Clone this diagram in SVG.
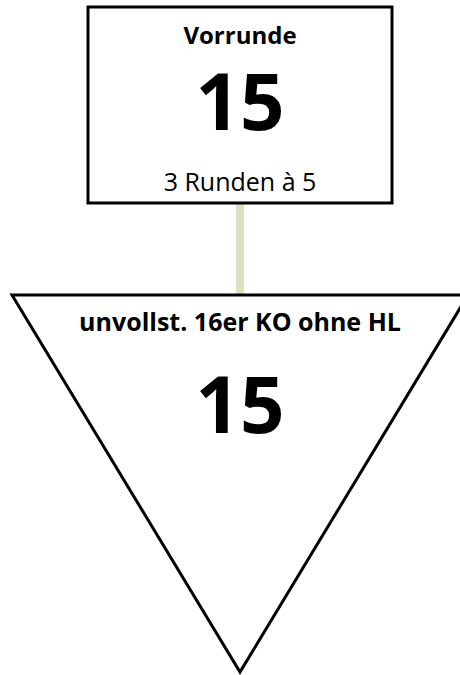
<svg xmlns="http://www.w3.org/2000/svg" width="460" height="675" viewBox="0 0 460 675">
<style>
.shape{fill:#ffffff;stroke:#000000;stroke-width:3}
.t{font-family:"Open Sans","Liberation Sans",sans-serif;fill:#000000;text-anchor:middle}
.b{font-weight:bold}
.conn{stroke:#d7e4bd;stroke-width:8;fill:none}
</style>
<rect width="460" height="675" fill="#ffffff"/>
<g id="connectors">
<line class="conn" x1="240" y1="204" x2="240" y2="294"/>
</g>
<g id="node-vorrunde">
<rect class="shape" x="88" y="7" width="304" height="196"/>
<text class="t b" x="240" y="44" font-size="24">Vorrunde</text>
<text class="t b" x="240" y="130" font-size="78">15</text>
<text class="t" x="240" y="191" font-size="25">3 Runden à 5</text>
</g>
<g id="node-ko">
<polygon class="shape" points="12,295 468,295 240,672"/>
<text class="t b" x="240" y="331" font-size="25">unvollst. 16er KO ohne HL</text>
<text class="t b" x="240" y="433" font-size="78">15</text>
</g>
</svg>
